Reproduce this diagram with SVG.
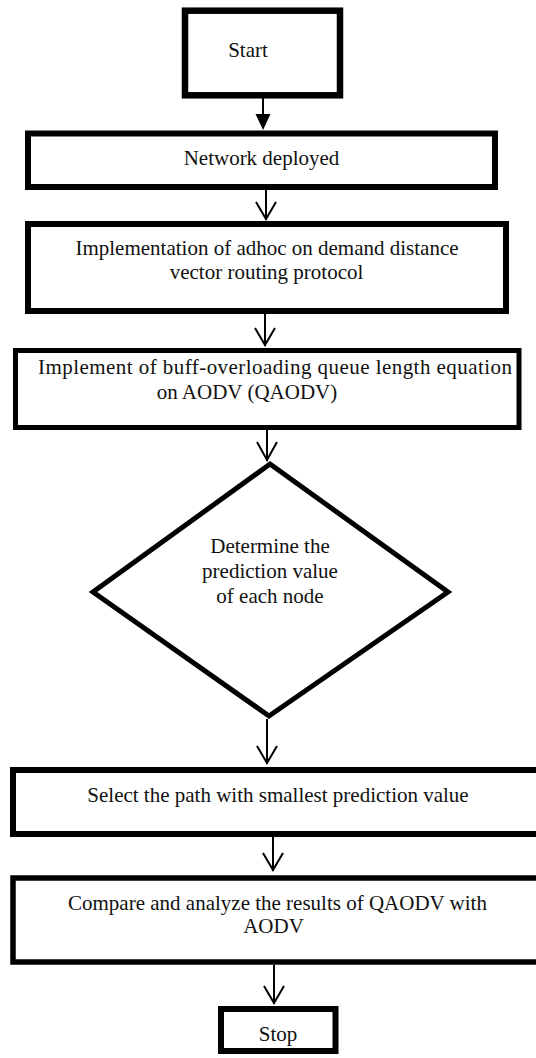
<svg xmlns="http://www.w3.org/2000/svg" width="536" height="1058" viewBox="0 0 536 1058">
<style>
.box{fill:#fff;stroke:#000;stroke-width:6}
.t{font-family:"Liberation Serif","Times New Roman",serif;font-size:21px;fill:#111;text-anchor:middle}
.ln{stroke:#000;stroke-width:2;fill:none}
</style>
<defs>
<marker id="tri" markerWidth="16" markerHeight="16" refX="8" refY="15" orient="auto" markerUnits="userSpaceOnUse" viewBox="0 0 16 16">
<path d="M0.5,0 L15.5,0 L8,15 Z" fill="#000"/>
</marker>
</defs>
<rect width="536" height="1058" fill="#fff"/>
<g id="connectors">
<line class="ln" x1="263" y1="98" x2="263" y2="114"/>
<path d="M255.5,114 L270.5,114 L263,130 Z" fill="#000"/>
<line class="ln" x1="266" y1="190" x2="266" y2="220"/>
<path class="ln" d="M256,202 L266,219 L276,202"/>
<line class="ln" x1="265" y1="314" x2="265" y2="346"/>
<path class="ln" d="M255,328 L265,345 L275,328"/>
<line class="ln" x1="267" y1="430" x2="267" y2="461"/>
<path class="ln" d="M257,442 L267,460 L277,442"/>
<line class="ln" x1="267" y1="719" x2="267" y2="764"/>
<path class="ln" d="M257,746 L267,763 L277,746"/>
<line class="ln" x1="273" y1="837" x2="273" y2="871"/>
<path class="ln" d="M263,853 L273,870 L283,853"/>
<line class="ln" x1="274" y1="965" x2="274" y2="1004"/>
<path class="ln" d="M264,986 L274,1003 L284,986"/>
</g>
<g id="start">
<rect class="box" x="185" y="10.7" width="155" height="84.6" style="stroke-width:6.5"/>
<text class="t" x="248" y="57">Start</text>
</g>
<g id="network">
<rect class="box" x="28" y="133.5" width="467" height="53.5"/>
<text class="t" x="261.5" y="165">Network deployed</text>
</g>
<g id="implementation">
<rect class="box" x="28" y="224" width="478" height="87"/>
<text class="t" x="267" y="255">Implementation of adhoc on demand distance</text>
<text class="t" x="266.5" y="279">vector routing protocol</text>
</g>
<g id="implement">
<rect class="box" x="15.5" y="350.5" width="503.5" height="77" style="stroke-width:5"/>
<text class="t" x="275" y="374" textLength="474" lengthAdjust="spacing">Implement of buff-overloading queue length equation</text>
<text class="t" x="247" y="399">on AODV (QAODV)</text>
</g>
<g id="determine">
<polygon points="270,464 448,592 269,716 93,592" fill="#fff" stroke="#000" stroke-width="5"/>
<text class="t" x="270" y="553">Determine the</text>
<text class="t" x="270" y="578">prediction value</text>
<text class="t" x="270" y="603">of each node</text>
</g>
<g id="select">
<rect class="box" x="13" y="770" width="535" height="64"/>
<text class="t" x="278" y="802">Select the path with smallest prediction value</text>
</g>
<g id="compare">
<rect class="box" x="13" y="878" width="535" height="84" style="stroke-width:5.5"/>
<text class="t" x="277.5" y="910">Compare and analyze the results of QAODV with</text>
<text class="t" x="273.5" y="933">AODV</text>
</g>
<g id="stop">
<rect class="box" x="221" y="1009" width="114.5" height="42"/>
<text class="t" x="278" y="1041">Stop</text>
</g>
</svg>
